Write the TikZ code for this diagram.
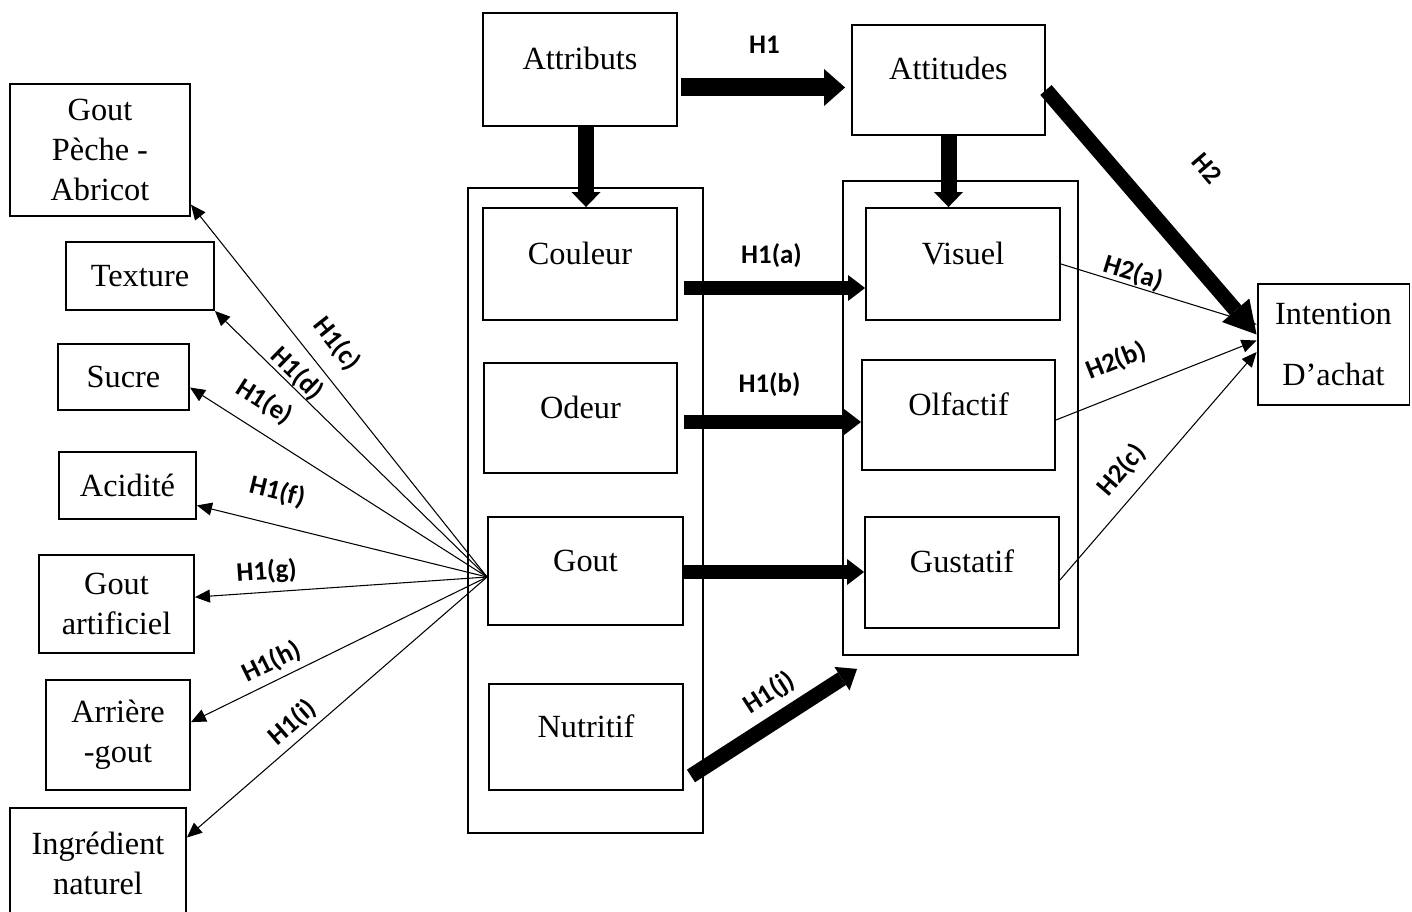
\documentclass[tikz,border=0pt]{standalone}
\usepackage{fontspec}
\setmainfont{Liberation Serif}
\newfontfamily\lblfont{Carlito}
\usepackage{tikz}
\usetikzlibrary{arrows.meta}

\begin{document}
\begin{tikzpicture}[x=0.02cm,y=-0.02cm,
  box/.style={draw,line width=1.1pt,inner sep=0pt,align=center,font=\fontsize{18.4}{22.7}\selectfont},
  midbox/.style={box,text height=12.5pt,text depth=12.5pt},
  group/.style={draw,line width=1.1pt,inner sep=0pt},
  bigarrow/.style={line width=0.27cm,-{Triangle[length=0.34cm,width=0.52cm,line width=0pt]}},
  downarrow/.style={line width=0.32cm,-{Triangle[length=0.3cm,width=0.58cm,line width=0pt]}},
  thinarrow/.style={line width=0.6pt,-{Triangle[length=0.3cm,width=0.26cm]}},
  hyp/.style={font=\lblfont\bfseries\fontsize{15.3}{18}\selectfont,inner sep=0pt}]
\useasboundingbox (0,0) rectangle (1412,912);

\node[box,minimum width=3.6cm,minimum height=2.64cm] (peche) at (100,150) {Gout\\Pèche -\\Abricot};
\node[box,minimum width=2.96cm,minimum height=1.36cm] (texture) at (140,276) {Texture};
\node[box,minimum width=2.62cm,minimum height=1.32cm] (sucre) at (123.5,377) {Sucre};
\node[box,minimum width=2.74cm,minimum height=1.34cm] (acidite) at (127.5,485.5) {Acidité};
\node[box,minimum width=3.1cm,minimum height=1.96cm] (artificiel) at (116.5,604) {Gout\\artificiel};
\node[box,minimum width=2.88cm,minimum height=2.2cm] (arriere) at (118,735) {Arrière\\-gout};
\node[box,minimum width=3.52cm,minimum height=2.2cm] (naturel) at (98,863) {Ingrédient\\naturel};

\node[group,minimum width=4.7cm,minimum height=12.9cm] (lgroup) at (585.5,510.5) {};
\node[midbox,minimum width=3.88cm,minimum height=2.26cm] (attributs) at (580,69.5) {Attributs};
\node[midbox,minimum width=3.88cm,minimum height=2.24cm] (couleur) at (580,264) {Couleur};
\node[midbox,minimum width=3.86cm,minimum height=2.2cm] (odeur) at (580.5,418) {Odeur};
\node[midbox,minimum width=3.9cm,minimum height=2.16cm] (gout) at (585.5,571) {Gout};
\node[midbox,minimum width=3.88cm,minimum height=2.12cm] (nutritif) at (586,737) {Nutritif};

\node[group,minimum width=4.7cm,minimum height=9.48cm] (rgroup) at (960.5,418) {};
\node[midbox,minimum width=3.86cm,minimum height=2.2cm] (attitudes) at (948.5,80) {Attitudes};
\node[midbox,minimum width=3.88cm,minimum height=2.24cm] (visuel) at (963,264) {Visuel};
\node[midbox,minimum width=3.86cm,minimum height=2.2cm] (olfactif) at (958.5,415) {Olfactif};
\node[midbox,minimum width=3.88cm,minimum height=2.22cm] (gustatif) at (962,572.5) {Gustatif};
\node[box,minimum width=3.04cm,minimum height=2.42cm,font=\fontsize{18.4}{35}\selectfont] (intention) at (1333.5,344.5) {Intention\\D’achat};

\draw[bigarrow,line width=0.36cm,-{Triangle[length=0.42cm,width=0.74cm,line width=0pt]},shorten <=0.06cm,shorten >=0.12cm] ([yshift=-0.36cm]attributs.east) -- ([yshift=-0.36cm]attributs.east -| attitudes.west) node[midway,above=0.5cm,hyp] {H1};
\draw[downarrow] ([xshift=0.12cm]attributs.south) -- ([xshift=0.12cm]couleur.north);
\draw[downarrow] (attitudes.south) -- (attitudes.south |- visuel.north);
\draw[bigarrow,line width=0.3cm,-{Triangle[length=0.64cm,width=0.72cm,line width=0pt]}] ([yshift=-0.2cm]attitudes.east) -- ([yshift=0.2cm]intention.west) node[pos=.51,above=1.1cm,sloped,hyp] {H2};
\draw[bigarrow,shorten <=0.12cm] ([yshift=-0.48cm]couleur.east) -- ([yshift=-0.48cm]couleur.east -| visuel.west) node[midway,above=0.28cm,hyp] {H1(a)};
\draw[bigarrow,shorten <=0.12cm] ([yshift=-0.08cm]odeur.east) -- ([yshift=-0.08cm]odeur.east -| olfactif.west) node[midway,above=0.38cm,hyp] {H1(b)};
\draw[bigarrow] ([yshift=-0.02cm]gout.east) -- ([yshift=-0.02cm]gout.east -| gustatif.west);
\draw[bigarrow,line width=0.3cm,-{Triangle[length=0.36cm,width=0.56cm,line width=0pt]}] ([xshift=0.14cm,yshift=0.3cm]nutritif.south east) -- ([xshift=0.3cm,yshift=-0.26cm]rgroup.south west) node[pos=.56,above=0.15cm,sloped,hyp] {H1(j)};

\draw[thinarrow] ([yshift=-0.12cm]gout.west) -- (peche.-31) node[pos=.58,above=0.3cm,sloped,hyp] {H1(c)};
\draw[thinarrow] ([yshift=-0.12cm]gout.west) -- (texture.south east) node[pos=.73,above=0cm,sloped,hyp] {H1(d)};
\draw[thinarrow] ([yshift=-0.12cm]gout.west) -- (sucre.-9) node[pos=.8,above=0.3cm,sloped,hyp] {H1(e)};
\draw[thinarrow] ([yshift=-0.12cm]gout.west) -- (acidite.-16) node[pos=.75,above=0.4cm,sloped,hyp] {H1(f)};
\draw[thinarrow] ([yshift=-0.12cm]gout.west) -- (artificiel.5) node[pos=.75,above=0.15cm,sloped,hyp] {H1(g)};
\draw[thinarrow] ([yshift=-0.12cm]gout.west) -- (arriere.10) node[pos=.7,above=0.12cm,sloped,hyp] {H1(h)};
\draw[thinarrow] ([yshift=-0.12cm]gout.west) -- (naturel.16) node[pos=.61,above=0.1cm,sloped,hyp] {H1(i)};

\draw[thinarrow] (visuel.east) -- ([yshift=0.4cm]intention.west) node[pos=.35,above=0cm,sloped,hyp] {H2(a)};
\draw[thinarrow] ([yshift=-0.1cm]olfactif.east) -- ([yshift=0.08cm]intention.west) node[pos=.36,above=0.4cm,sloped,hyp] {H2(b)};
\draw[thinarrow] ([yshift=-0.15cm]gustatif.east) -- ([yshift=-0.15cm]intention.west) node[pos=.41,above=0.25cm,sloped,hyp] {H2(c)};
\end{tikzpicture}
\end{document}
